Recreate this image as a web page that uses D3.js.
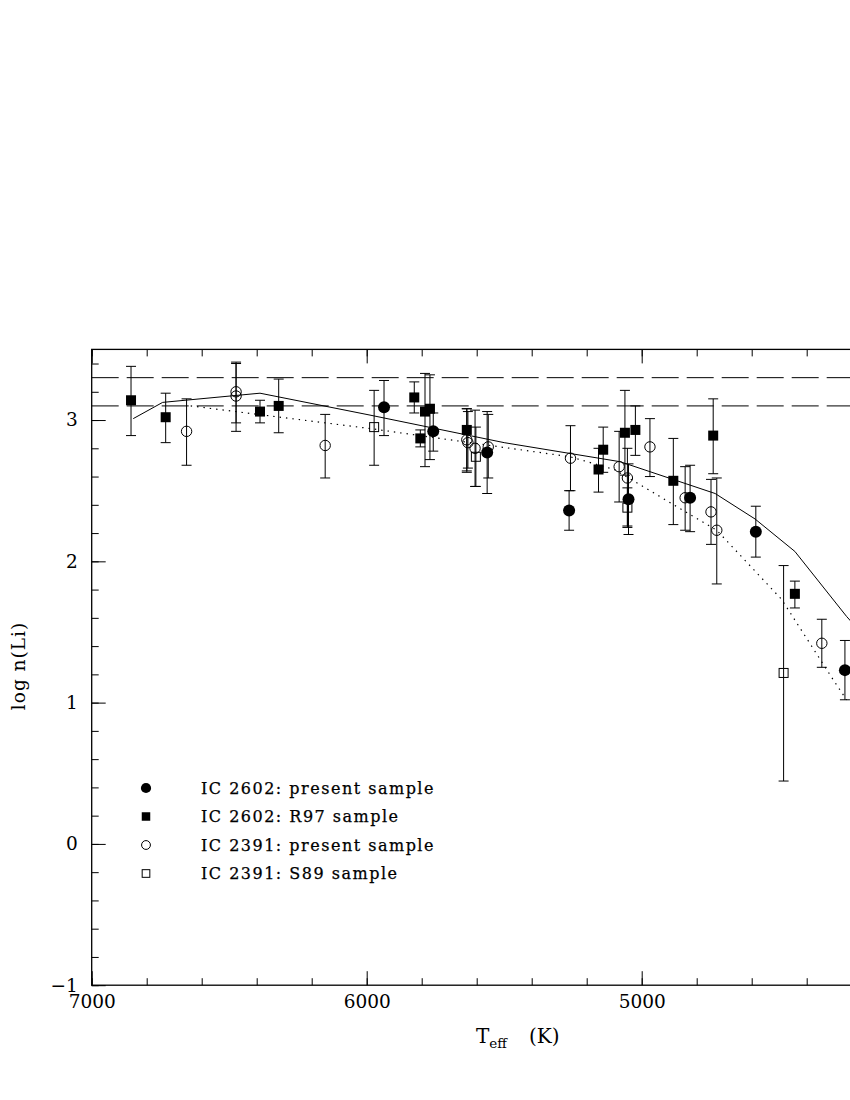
<!DOCTYPE html>
<html>
<head>
<meta charset="utf-8">
<script src="https://cdn.jsdelivr.net/npm/d3@7"></script>
<style>
  body { margin: 0; background: #fff; }
  text { font-family: "DejaVu Serif", "Liberation Serif", serif; fill: #000; }
</style>
</head>
<body>
<div id="main"></div>
<script>
// [Teff, logN, low, high]
var ic2602Present = [
    [5937, 3.09, 2.89, 3.28],
    [5758, 2.92, 2.78, 3.05],
    [5562, 2.77, 2.48, 3.06],
    [5264, 2.36, 2.22, 2.50],
    [5048, 2.44, 2.19, 2.69],
    [4824, 2.45, 2.21, 2.68],
    [4585, 2.21, 2.03, 2.39],
    [4261, 1.23, 1.02, 1.44]
];
var ic2602R97 = [
    [6857, 3.14, 2.89, 3.38],
    [6731, 3.02, 2.84, 3.19],
    [6388, 3.06, 2.98, 3.14],
    [6320, 3.10, 2.91, 3.29],
    [5827, 3.16, 3.05, 3.27],
    [5805, 2.87, 2.81, 2.93],
    [5788, 3.06, 2.67, 3.33],
    [5770, 3.08, 2.72, 3.32],
    [5636, 2.93, 2.63, 3.08],
    [5157, 2.65, 2.49, 2.80],
    [5140, 2.79, 2.63, 2.95],
    [5061, 2.91, 2.61, 3.21],
    [5023, 2.93, 2.75, 3.10],
    [4885, 2.57, 2.26, 2.87],
    [4740, 2.89, 2.62, 3.15],
    [4443, 1.77, 1.67, 1.86]
];
var ic2391Present = [
    [6655, 2.92, 2.68, 3.15],
    [6475, 3.20, 2.98, 3.41],
    [6475, 3.17, 2.92, 3.40],
    [6151, 2.82, 2.59, 3.04],
    [5636, 2.86, 2.64, 3.08],
    [5632, 2.84, 2.66, 3.06],
    [5606, 2.80, 2.53, 3.07],
    [5558, 2.81, 2.59, 3.04],
    [5259, 2.73, 2.50, 2.96],
    [5082, 2.67, 2.42, 2.92],
    [5052, 2.59, 2.25, 2.80],
    [4970, 2.81, 2.60, 3.01],
    [4842, 2.45, 2.22, 2.67],
    [4748, 2.35, 2.12, 2.58],
    [4727, 2.22, 1.84, 2.59],
    [4345, 1.42, 1.25, 1.59]
];
var ic2391S89 = [
    [5973, 2.95, 2.68, 3.21],
    [5603, 2.74, 2.53, 2.95],
    [5052, 2.38, 2.24, 2.52],
    [4484, 1.21, 0.445, 1.97]
];
// model curves
var solidModel = [
    [6849, 3.01], [6742, 3.125], [6388, 3.19], [5988, 3.035], [5500, 2.84],
    [5078, 2.705], [4733, 2.48], [4588, 2.30], [4443, 2.07], [4255, 1.61], [4200, 1.49]
];
var dottedModel = [
    [6640, 3.10], [5988, 2.94], [5260, 2.74], [5100, 2.65], [4727, 2.22],
    [4491, 1.73], [4303, 1.16], [4255, 1.02]
];
var meteoriticLines = [3.3, 3.1];
var xMajorTicks = [7000, 6000, 5000];
var yMajorTicks = [-1, 0, 1, 2, 3];
var legendLabels = [
    "IC 2602: present sample",
    "IC 2602: R97 sample",
    "IC 2391: present sample",
    "IC 2391: S89 sample"
];

var W = 850, H = 1100;
var pLeft = 91.7, pRight = 916.7, pTop = 349.4, pBottom = 985.2;

var svg = d3.select('#main').append('svg')
    .attr('width', W).attr('height', H);

var x = d3.scaleLinear().domain([7000, 4000]).range([pLeft, pRight]);
var y = d3.scaleLinear().domain([-1, 3.5]).range([pBottom, pTop]);

var xMinor = d3.range(7000, 3999, -200);
var yMinor = d3.range(-1, 3.51, 0.2).map(function(d) { return +d.toFixed(1); });

function styleAxis(g) {
    g.select('.domain').remove();
    g.selectAll('line').attr('stroke', '#000').attr('stroke-width', 1);
    g.selectAll('text').attr('font-size', 18.5).attr('fill', '#000')
        .attr('font-family', '"DejaVu Serif", serif');
}

// bottom
svg.append('g').attr('transform', 'translate(0,' + pBottom + ')')
    .call(d3.axisBottom(x).tickValues(xMinor).tickSize(-7).tickFormat(''))
    .call(styleAxis);
svg.append('g').attr('transform', 'translate(0,' + pBottom + ')')
    .call(d3.axisBottom(x).tickValues(xMajorTicks).tickSize(-14).tickPadding(10).tickFormat(d3.format('d')))
    .call(styleAxis);
// top
svg.append('g').attr('transform', 'translate(0,' + pTop + ')')
    .call(d3.axisTop(x).tickValues(xMinor).tickSize(-7).tickFormat(''))
    .call(styleAxis);
svg.append('g').attr('transform', 'translate(0,' + pTop + ')')
    .call(d3.axisTop(x).tickValues(xMajorTicks).tickSize(-14).tickFormat(''))
    .call(styleAxis);
// left
svg.append('g').attr('transform', 'translate(' + pLeft + ',0)')
    .call(d3.axisLeft(y).tickValues(yMinor).tickSize(-7).tickFormat(''))
    .call(styleAxis);
svg.append('g').attr('transform', 'translate(' + pLeft + ',0)')
    .call(d3.axisLeft(y).tickValues(yMajorTicks).tickSize(-14).tickPadding(14).tickFormat(d3.format('d')))
    .call(styleAxis);
// right (outside the window)
svg.append('g').attr('transform', 'translate(' + pRight + ',0)')
    .call(d3.axisRight(y).tickValues(yMinor).tickSize(-7).tickFormat(''))
    .call(styleAxis);

// frame
svg.append('rect')
    .attr('x', pLeft).attr('y', pTop)
    .attr('width', pRight - pLeft).attr('height', pBottom - pTop)
    .attr('fill', 'none').attr('stroke', '#000').attr('stroke-width', 1.3);

var plot = svg.append('g');

// dashed reference levels
plot.selectAll('.ref').data(meteoriticLines).enter().append('line')
    .attr('x1', pLeft).attr('x2', pRight)
    .attr('y1', function(d) { return y(d); }).attr('y2', function(d) { return y(d); })
    .attr('stroke', '#000').attr('stroke-width', 1)
    .attr('stroke-dasharray', '27,8');

var line = d3.line().x(function(d) { return x(d[0]); }).y(function(d) { return y(d[1]); });
plot.append('path').datum(solidModel).attr('d', line)
    .attr('fill', 'none').attr('stroke', '#000').attr('stroke-width', 1);
plot.append('path').datum(dottedModel).attr('d', line)
    .attr('fill', 'none').attr('stroke', '#000').attr('stroke-width', 1.2)
    .attr('stroke-dasharray', '1.4,5');

// error bars
function errorBars(data) {
    var g = plot.append('g').attr('stroke', '#000').attr('stroke-width', 1);
    data.forEach(function(d) {
        var cx = x(d[0]);
        g.append('line').attr('x1', cx).attr('x2', cx).attr('y1', y(d[2])).attr('y2', y(d[3]));
        g.append('line').attr('x1', cx - 5).attr('x2', cx + 5).attr('y1', y(d[2])).attr('y2', y(d[2]));
        g.append('line').attr('x1', cx - 5).attr('x2', cx + 5).attr('y1', y(d[3])).attr('y2', y(d[3]));
    });
}
[ic2602R97, ic2391Present, ic2391S89, ic2602Present].forEach(errorBars);

function drawMarker(g, kind, cx, cy, s) {
    if (kind === 'fc') {
        g.append('circle').attr('cx', cx).attr('cy', cy).attr('r', s * 0.6).attr('fill', '#000');
    } else if (kind === 'fs') {
        g.append('rect').attr('x', cx - s / 2).attr('y', cy - s / 2).attr('width', s).attr('height', s).attr('fill', '#000');
    } else if (kind === 'oc') {
        g.append('circle').attr('cx', cx).attr('cy', cy).attr('r', s * 0.52)
            .attr('fill', 'none').attr('stroke', '#000').attr('stroke-width', 1);
    } else {
        g.append('rect').attr('x', cx - s * 0.45).attr('y', cy - s * 0.45).attr('width', s * 0.9).attr('height', s * 0.9)
            .attr('fill', 'none').attr('stroke', '#000').attr('stroke-width', 1);
    }
}

var series = [
    { data: ic2391S89, kind: 'os' },
    { data: ic2391Present, kind: 'oc' },
    { data: ic2602R97, kind: 'fs' },
    { data: ic2602Present, kind: 'fc' }
];
series.forEach(function(s) {
    var g = plot.append('g');
    s.data.forEach(function(d) { drawMarker(g, s.kind, x(d[0]), y(d[1]), 10); });
});

// legend
var legendKinds = ['fc', 'fs', 'oc', 'os'];
var lg = svg.append('g');
legendLabels.forEach(function(lbl, i) {
    var ly = 788 + i * 28.5;
    drawMarker(lg, legendKinds[i], 146, ly, 8.5);
    lg.append('text').attr('x', 201).attr('y', ly + 5.5)
        .attr('font-size', 16).attr('letter-spacing', 1.5)
        .attr('stroke', '#000').attr('stroke-width', 0.25)
        .text(lbl);
});

// axis titles
var xt = svg.append('text').attr('x', 476).attr('y', 1043).attr('font-size', 20);
xt.append('tspan').text('T');
xt.append('tspan').attr('font-size', 13.5).attr('dy', 5).text('eff');
xt.append('tspan').attr('dy', -5).attr('dx', 22).text('(K)');

svg.append('text')
    .attr('transform', 'translate(25,666) rotate(-90)')
    .attr('text-anchor', 'middle').attr('font-size', 18.5)
    .attr('letter-spacing', 1)
    .text('log n(Li)');
</script>
</body>
</html>
